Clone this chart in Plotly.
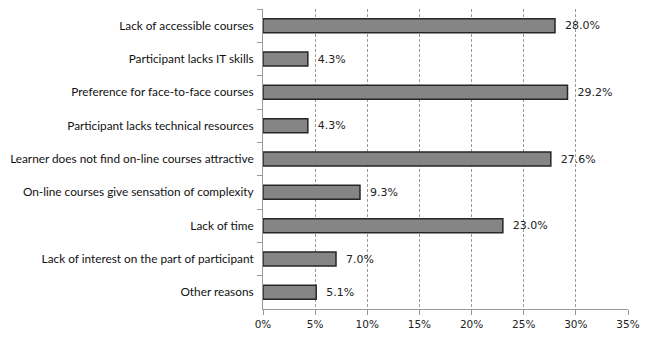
import plotly.graph_objects as go

categories = [
    "Lack of accessible courses",
    "Participant lacks IT skills",
    "Preference for face-to-face courses",
    "Participant lacks technical resources",
    "Learner does not find on-line courses attractive",
    "On-line courses give sensation of complexity",
    "Lack of time",
    "Lack of interest on the part of participant",
    "Other reasons",
]
values = [28.0, 4.3, 29.2, 4.3, 27.6, 9.3, 23.0, 7.0, 5.1]
x_ticks = [0, 5, 10, 15, 20, 25, 30, 35]
x_tick_labels = [f"{t}%" for t in x_ticks]

fig = go.Figure(
    go.Bar(
        x=values,
        y=categories,
        orientation="h",
        marker=dict(color="#858585", line=dict(color="#262626", width=1.5)),
        text=[f"  {v:.1f}%" for v in values],
        textposition="outside",
        textfont=dict(family="DejaVu Sans", size=11, color="#222222"),
        cliponaxis=False,
    )
)

fig.update_layout(
    width=648,
    height=342,
    margin=dict(l=263, r=20, t=9, b=33),
    paper_bgcolor="white",
    plot_bgcolor="white",
    bargap=0.58,
    showlegend=False,
    font=dict(family="Lato", size=11, color="#222222"),
)

fig.update_xaxes(
    range=[0, 35],
    tickvals=x_ticks,
    ticktext=x_tick_labels,
    showgrid=True,
    gridcolor="#9a9a9a",
    griddash="3px,2px",
    gridwidth=1,
    showline=True,
    linecolor="#999999",
    linewidth=1,
    ticks="outside",
    ticklen=5,
    tickcolor="#999999",
    zeroline=False,
    tickfont=dict(family="DejaVu Sans", size=10.5, color="#222222"),
)

fig.update_yaxes(
    autorange="reversed",
    showline=True,
    linecolor="#999999",
    linewidth=1,
    ticks="outside",
    tickson="boundaries",
    ticklen=5,
    tickcolor="#999999",
    showgrid=False,
    ticklabelstandoff=6,
    tickfont=dict(family="Lato", size=11.8, color="#111111"),
)

fig.write_html("out.html")
